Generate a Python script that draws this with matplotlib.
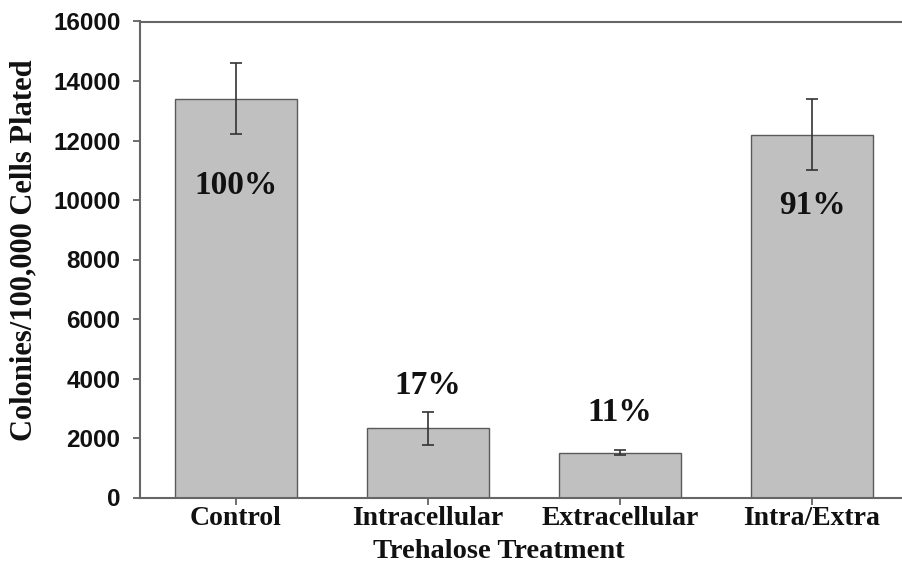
import matplotlib.pyplot as plt

treatments = ["Control", "Intracellular", "Extracellular", "Intra/Extra"]
colonies = [13400, 2330, 1500, 12200]
errors = [1190, 560, 85, 1195]
percent_labels = ["100%", "17%", "11%", "91%"]
percent_y = [10500, 3750, 2870, 9800]
y_ticks = [0, 2000, 4000, 6000, 8000, 10000, 12000, 14000, 16000]

W, H = 903, 564
fig = plt.figure(figsize=(W / 100, H / 100), dpi=100)
ax = fig.add_axes([140 / W, (H - 497.5) / H, (W - 140) / W, 476 / H])

xs = range(len(treatments))
ax.bar(xs, colonies, width=0.635, color="#c0c0c0", edgecolor="#5a5a5a", linewidth=1.0, zorder=2)
ax.errorbar(xs, colonies, yerr=errors, fmt="none", ecolor="#333333",
            elinewidth=1.2, capsize=4.5, capthick=1.2, zorder=3)

for x, lab, y in zip(xs, percent_labels, percent_y):
    ax.text(x, y, lab, ha="center", va="center", fontsize=24, fontweight="bold",
            family="Liberation Serif", color="#111111", zorder=4)

ax.set_xlim(-0.5, (W - 236) / 192)
ax.set_ylim(0, 16000)
ax.set_yticks(y_ticks)
ax.set_yticklabels([str(t) for t in y_ticks], fontsize=17.5, fontweight="bold",
                   family="Liberation Sans", color="#111111")
ax.set_xticks(list(xs))
ax.set_xticklabels(treatments, fontsize=20, fontweight="bold",
                   family="Liberation Serif", color="#111111")

for side in ["left", "bottom", "top"]:
    ax.spines[side].set_color("#666666")
    ax.spines[side].set_linewidth(1.5)
ax.spines["right"].set_visible(False)
ax.tick_params(axis="y", direction="out", length=5, width=1.2, color="#555555", pad=9)
ax.tick_params(axis="x", direction="out", length=5, width=1.2, color="#555555", pad=1)

fig.text(499 / W, (H - 552) / H, "Trehalose Treatment", ha="center", va="center",
         fontsize=20.5, fontweight="bold", family="Liberation Serif", color="#111111")
fig.text(24 / W, (H - 250) / H, "Colonies/100,000 Cells Plated", ha="center", va="center",
         rotation=90, fontsize=22, fontweight="bold", family="Liberation Serif", color="#111111")

fig.savefig("out.png", dpi=100)
